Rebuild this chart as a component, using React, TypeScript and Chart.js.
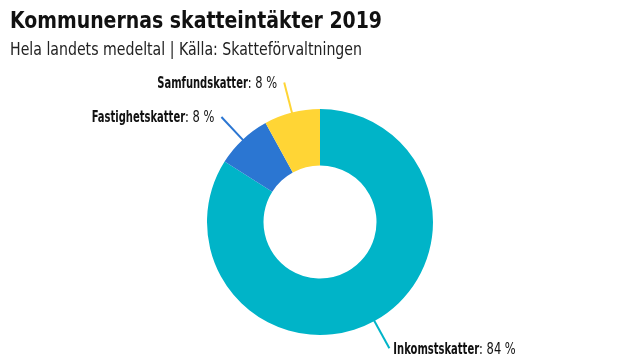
import React, { useEffect, useRef } from "react";
import { Chart, registerables } from "chart.js";

Chart.register(...registerables);

const TITLE = "Kommunernas skatteintäkter 2019";
const SUBTITLE = "Hela landets medeltal | Källa: Skatteförvaltningen";

const categories = ["Inkomstskatter", "Fastighetskatter", "Samfundskatter"];
const shares = [84, 8, 8];
const sliceColors = ["#00b4c8", "#2b76d2", "#ffd535"];

const FONT = '"DejaVu Sans Condensed", "Liberation Sans Narrow", "Open Sans", sans-serif';
const BOLD_SQUEEZE = 0.74;
const REG_SQUEEZE = 0.85;

const textPlugin = {
  id: "customText",
  afterDraw(chart: any) {
    const ctx = chart.ctx;
    ctx.save();
    ctx.fillStyle = "#111";
    ctx.textBaseline = "alphabetic";
    ctx.textAlign = "left";
    ctx.font = `bold 23px ${FONT}`;
    ctx.fillText(TITLE, 10, 28, 372);
    ctx.font = `17px ${FONT}`;
    ctx.fillStyle = "#222";
    ctx.fillText(SUBTITLE, 10, 55, 352);
    ctx.restore();
  },
  afterDatasetsDraw(chart: any) {
    const ctx = chart.ctx;
    const meta = chart.getDatasetMeta(0);
    ctx.save();
    meta.data.forEach((arc: any, i: number) => {
      const p = arc.getProps(["x", "y", "startAngle", "endAngle", "outerRadius"], true);
      const mid = (p.startAngle + p.endAngle) / 2;
      const c = Math.cos(mid);
      const s = Math.sin(mid);
      const r1 = p.outerRadius - 1;
      const r2 = p.outerRadius + 31;
      const x1 = p.x + c * r1;
      const y1 = p.y + s * r1;
      const x2 = p.x + c * r2;
      const y2 = p.y + s * r2;
      ctx.strokeStyle = sliceColors[i];
      ctx.lineWidth = 2;
      ctx.beginPath();
      ctx.moveTo(x1, y1);
      ctx.lineTo(x2, y2);
      ctx.stroke();

      const name = categories[i];
      const rest = `: ${shares[i]} %`;
      ctx.textBaseline = "middle";
      ctx.textAlign = "left";
      ctx.fillStyle = "#111";
      ctx.font = `bold 15px ${FONT}`;
      const wName = ctx.measureText(name).width * BOLD_SQUEEZE;
      ctx.font = `15px ${FONT}`;
      const wRest = ctx.measureText(rest).width * REG_SQUEEZE;
      const startX = c >= 0 ? x2 + 4 : x2 - 7 - wName - wRest;
      const ty = y2 + 1.5;

      ctx.save();
      ctx.translate(startX, ty);
      ctx.scale(BOLD_SQUEEZE, 1);
      ctx.font = `bold 15px ${FONT}`;
      ctx.fillText(name, 0, 0);
      ctx.restore();

      ctx.save();
      ctx.translate(startX + wName, ty);
      ctx.scale(REG_SQUEEZE, 1);
      ctx.font = `15px ${FONT}`;
      ctx.fillText(rest, 0, 0);
      ctx.restore();
    });
    ctx.restore();
  },
};

export default function App() {
  const ref = useRef<HTMLCanvasElement | null>(null);
  useEffect(() => {
    if (!ref.current) return;
    const chart = new Chart(ref.current, {
      type: "doughnut",
      data: {
        labels: categories,
        datasets: [
          {
            data: shares,
            backgroundColor: sliceColors,
            borderWidth: 0,
          },
        ],
      },
      options: {
        responsive: false,
        maintainAspectRatio: false,
        animation: false,
        cutout: "50%",
        layout: { padding: { top: 109, bottom: 25, left: 0, right: 0 } },
        plugins: {
          legend: { display: false },
          tooltip: { enabled: false },
          title: { display: false },
        },
      },
      plugins: [textPlugin],
    });
    return () => chart.destroy();
  }, []);
  return (
    <div style={{ position: "fixed", left: 0, top: 0, width: 640, height: 360, background: "#fff" }}>
      <canvas ref={ref} width={640} height={360} />
    </div>
  );
}
